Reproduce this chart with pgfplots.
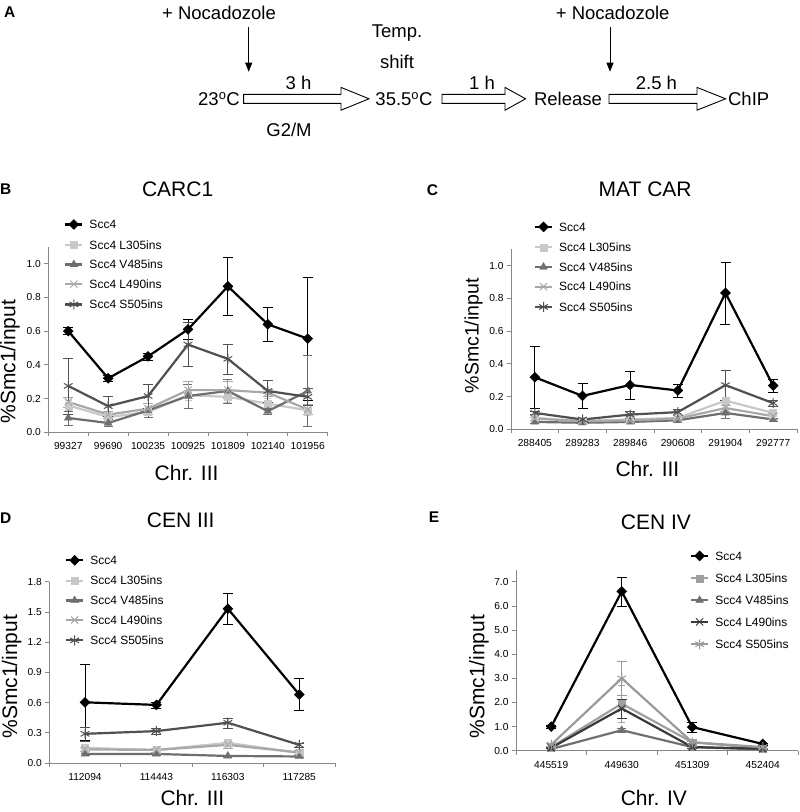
\documentclass[border=0pt]{standalone}
\usepackage{pgfplots}
\pgfplotsset{compat=1.18}
\usepackage{fontspec}
\setmainfont{Liberation Sans}
\usetikzlibrary{arrows.meta}
\definecolor{axgray}{RGB}{134,134,134}
\definecolor{cb}{RGB}{200,200,200}
\definecolor{cc}{RGB}{110,110,110}
\definecolor{cd}{RGB}{168,168,168}
\definecolor{ce}{RGB}{80,80,80}
\definecolor{eb}{RGB}{160,160,160}
\definecolor{ec}{RGB}{112,112,112}
\definecolor{ed}{RGB}{58,58,58}
\definecolor{ee}{RGB}{154,154,154}
\newcommand{\fTick}{\fontsize{10.2}{12}\selectfont}
\newcommand{\fLeg}{\fontsize{12}{14}\selectfont}
\newcommand{\fLab}{\fontsize{21}{24}\selectfont}
\newcommand{\fA}{\fontsize{18.5}{21}\selectfont}
\newcommand{\fLet}{\fontsize{15.5}{18}\selectfont\bfseries}
\pgfdeclareplotmark{dmd}{%
 \pgfpathmoveto{\pgfqpoint{0pt}{\pgfplotmarksize}}%
 \pgfpathlineto{\pgfqpoint{\pgfplotmarksize}{0pt}}%
 \pgfpathlineto{\pgfqpoint{0pt}{-\pgfplotmarksize}}%
 \pgfpathlineto{\pgfqpoint{-\pgfplotmarksize}{0pt}}%
 \pgfpathclose\pgfusepathqfillstroke}
\pgfplotsset{
 panel/.style={
  scale only axis, clip=false,
  axis lines*=left, axis line style={-, draw=axgray, line width=0.8pt},
  ymin=0, enlargelimits=false,
  tick align=outside, major tick length=4pt, minor tick length=4pt,
  ytick style={draw=axgray, line width=0.8pt},
  xtick style={draw=none},
  minor x tick style={draw=axgray, line width=0.8pt},
  tick label style={font=\fTick},
  /pgf/number format/assume math mode=true,
  yticklabel style={/pgf/number format/fixed, /pgf/number format/fixed zerofill, /pgf/number format/precision=1},
  xticklabel style={yshift=-3pt},
  every axis y label/.style={rotate=90, anchor=center, font=\fLab},
  every axis x label/.style={anchor=center, font=\fLab},
  every axis title/.style={anchor=center, font=\fLab},
  legend cell align=left,
  legend style={draw=none, fill=none, inner sep=0pt, outer sep=0pt, font=\fLeg, anchor=north west, column sep=6pt, row sep=11pt, nodes={inner sep=0pt, text height=8.6pt, text depth=0pt}},
 },
 sA/.style={color=black, line width=2.2pt, mark=dmd, mark size=5pt, mark options={solid, line width=0.4pt, fill=black}},
 sB/.style={color=#1, line width=2.2pt, mark=square*, mark size=3.5pt, mark options={solid, line width=0.4pt, fill=#1}},
 sC/.style={color=#1, line width=2.2pt, mark=triangle*, mark size=4.5pt, mark options={solid, line width=0.4pt, fill=#1}},
 sD/.style={color=#1, line width=2.2pt, mark=x, mark size=5pt, mark options={solid, line width=1pt}},
 sE/.style={color=#1, line width=2.2pt, mark=asterisk, mark size=5pt, mark options={solid, line width=1pt}},
 ebar/.style={error bars/.cd, y dir=both, y explicit, error bar style={line width=0.9pt}},
}
\begin{document}
\begin{tikzpicture}
\path[use as bounding box] (0pt,0pt) rectangle (800pt,-812pt);
% ---------- Panel A ----------
\node[font=\fLet] at (9.7pt,-12.3pt) {A};
\begin{scope}[font=\fA]
\node at (219pt,-13.3pt) {+ Nocadozole};
\node at (612.7pt,-13.3pt) {+ Nocadozole};
\node at (397pt,-33.3pt) {Temp.};
\node at (397pt,-61.7pt) {shift};
\node at (298.5pt,-82.7pt) {3 h};
\node at (482pt,-82.7pt) {1 h};
\node at (656.4pt,-82.7pt) {2.5 h};
\node at (219pt,-99.3pt) {23\textsuperscript{o}C};
\node at (404pt,-99.3pt) {35.5\textsuperscript{o}C};
\node at (568pt,-99.3pt) {Release};
\node at (748.7pt,-99.3pt) {ChIP};
\node at (289pt,-130pt) {G2/M};
\end{scope}
\draw[line width=0.9pt, -{Triangle[length=9pt,width=7pt]}] (248.7pt,-26.7pt) -- (248.7pt,-71.7pt);
\draw[line width=0.9pt, -{Triangle[length=9pt,width=7pt]}] (610pt,-26.7pt) -- (610pt,-71.7pt);
\draw[line width=0.9pt, fill=white] (243.6pt,-94.3pt) -- (341pt,-94.3pt) -- (341pt,-87.4pt) -- (369pt,-98.8pt) -- (341pt,-110.2pt) -- (341pt,-103.3pt) -- (243.6pt,-103.3pt) -- cycle;
\draw[line width=0.9pt, fill=white] (442pt,-94.3pt) -- (505pt,-94.3pt) -- (505pt,-87.4pt) -- (525.6pt,-98.8pt) -- (505pt,-110.2pt) -- (505pt,-103.3pt) -- (442pt,-103.3pt) -- cycle;
\draw[line width=0.9pt, fill=white] (609pt,-94.3pt) -- (697pt,-94.3pt) -- (697pt,-87.4pt) -- (725.6pt,-98.8pt) -- (697pt,-110.2pt) -- (697pt,-103.3pt) -- (609pt,-103.3pt) -- cycle;
% ---------- letters ----------
\node[font=\fLet] at (5.8pt,-189pt) {B};
\node[font=\fLet] at (432.5pt,-190pt) {C};
\node[font=\fLet] at (5.8pt,-517.8pt) {D};
\node[font=\fLet] at (434pt,-517.5pt) {E};
% ---------- Panel B ----------
\begin{axis}[panel, at={(48.3pt,-432.3pt)}, anchor=south west, width=279.4pt, height=185.6pt,
 xmin=-0.5, xmax=6.5, ymax=1.1, ytick={0,0.2,0.4,0.6,0.8,1.0},
 xtick={0,1,2,3,4,5,6}, xticklabels={99327,99690,100235,100925,101809,102140,101956},
 minor xtick={-0.5,0.5,1.5,2.5,3.5,4.5,5.5,6.5},
 title={CARC1}, title style={at={(axis description cs:0.463,1.309)}},
 xlabel={Chr. III}, xlabel style={at={(axis description cs:0.495,-0.221)}},
 ylabel={\%Smc1/input}, ylabel style={at={(axis description cs:-0.137,0.38)}},
 legend style={at={(0.057,1.147)}}]
\addplot[sA, ebar] table[x=x,y=y,y error=e] {
x y e
0 0.600 0.02
1 0.320 0.02
2 0.450 0.02
3 0.610 0.06
4 0.865 0.17
5 0.640 0.10
6 0.555 0.365
};
\addplot[sB=cb, ebar] table[x=x,y=y,y error=e] {
x y e
0 0.16 0.03
1 0.09 0.02
2 0.12 0.03
3 0.22 0.03
4 0.21 0.03
5 0.17 0.03
6 0.13 0.03
};
\addplot[sC=cc, ebar] table[x=x,y=y,y error=e] {
x y e
0 0.085 0.04
1 0.055 0.02
2 0.130 0.04
3 0.215 0.07
4 0.245 0.07
5 0.125 0.02
6 0.245 0.21
};
\addplot[sD=cd, ebar] table[x=x,y=y,y error=e] {
x y e
0 0.180 0.03
1 0.105 0.02
2 0.140 0.03
3 0.250 0.05
4 0.250 0.05
5 0.235 0.02
6 0.135 0.03
};
\addplot[sE=ce, ebar] table[x=x,y=y,y error=e] {
x y e
0 0.275 0.165
1 0.155 0.06
2 0.215 0.07
3 0.520 0.13
4 0.435 0.09
5 0.245 0.065
6 0.210 0.05
};
\legend{Scc4, Scc4 L305ins, Scc4 V485ins, Scc4 L490ins, Scc4 S505ins}
\end{axis}
% ---------- Panel C ----------
\begin{axis}[panel, at={(511pt,-429.3pt)}, anchor=south west, width=286pt, height=180pt,
 xmin=-0.5, xmax=5.5, ymax=1.1, ytick={0,0.2,0.4,0.6,0.8,1.0},
 xtick={0,1,2,3,4,5}, xticklabels={288405,289283,289846,290608,291904,292777},
 minor xtick={-0.5,0.5,1.5,2.5,3.5,4.5,5.5},
 title={MAT CAR}, title style={at={(axis description cs:0.469,1.335)}},
 xlabel={Chr. III}, xlabel style={at={(axis description cs:0.477,-0.222)}},
 ylabel={\%Smc1/input}, ylabel style={at={(axis description cs:-0.131,0.519)}, font=\fontsize{19.5}{22}\selectfont},
 legend style={at={(0.08,1.152)}}]
\addplot[sA, ebar] table[x=x,y=y,y error=e] {
x y e
0 0.318 0.19
1 0.204 0.075
2 0.271 0.085
3 0.237 0.04
4 0.833 0.19
5 0.267 0.04
};
\addplot[sB=cb, ebar] table[x=x,y=y,y error=e] {
x y e
0 0.070 0.01
1 0.050 0.01
2 0.060 0.01
3 0.070 0.01
4 0.175 0.02
5 0.100 0.02
};
\addplot[sC=cc, ebar] table[x=x,y=y,y error=e] {
x y e
0 0.045 0.01
1 0.040 0.01
2 0.045 0.01
3 0.055 0.01
4 0.100 0.03
5 0.060 0.01
};
\addplot[sD=cd, ebar] table[x=x,y=y,y error=e] {
x y e
0 0.065 0.01
1 0.050 0.01
2 0.055 0.01
3 0.065 0.01
4 0.130 0.02
5 0.080 0.02
};
\addplot[sE=ce, ebar] table[x=x,y=y,y error=e] {
x y e
0 0.100 0.01
1 0.060 0.01
2 0.090 0.02
3 0.105 0.02
4 0.270 0.09
5 0.160 0.02
};
\legend{Scc4, Scc4 L305ins, Scc4 V485ins, Scc4 L490ins, Scc4 S505ins}
\end{axis}
% ---------- Panel D ----------
\begin{axis}[panel, at={(49.3pt,-763pt)}, anchor=south west, width=285.7pt, height=181.2pt,
 xmin=-0.5, xmax=3.5, ymax=1.8, ytick={0,0.3,0.6,0.9,1.2,1.5,1.8},
 xtick={0,1,2,3}, xticklabels={112094,114443,116303,117285},
 minor xtick={-0.5,0.5,1.5,2.5,3.5},
 title={CEN III}, title style={at={(axis description cs:0.460,1.337)}},
 xlabel={Chr. III}, xlabel style={at={(axis description cs:0.501,-0.192)}},
 ylabel={\%Smc1/input}, ylabel style={at={(axis description cs:-0.132,0.476)}},
 legend style={at={(0.055,1.146)}}]
\addplot[sA, ebar] table[x=x,y=y,y error=e] {
x y e
0 0.603 0.38
1 0.577 0.03
2 1.533 0.15
3 0.680 0.16
};
\addplot[sB=cb, ebar] table[x=x,y=y,y error=e] {
x y e
0 0.150 0.02
1 0.130 0.02
2 0.200 0.03
3 0.100 0.02
};
\addplot[sC=cc, ebar] table[x=x,y=y,y error=e] {
x y e
0 0.090 0.01
1 0.090 0.01
2 0.070 0.01
3 0.065 0.01
};
\addplot[sD=cd, ebar] table[x=x,y=y,y error=e] {
x y e
0 0.135 0.02
1 0.130 0.02
2 0.180 0.03
3 0.105 0.02
};
\addplot[sE=ce, ebar] table[x=x,y=y,y error=e] {
x y e
0 0.290 0.07
1 0.317 0.03
2 0.400 0.05
3 0.180 0.02
};
\legend{Scc4, Scc4 L305ins, Scc4 V485ins, Scc4 L490ins, Scc4 S505ins}
\end{axis}
% ---------- Panel E ----------
\begin{axis}[panel, at={(516pt,-750.7pt)}, anchor=south west, width=282pt, height=181pt,
 xmin=-0.5, xmax=3.5, ymax=7.5, ytick={0,1,2,3,4,5,6,7},
 xtick={0,1,2,3}, xticklabels={445519,449630,451309,452404},
 minor xtick={-0.5,0.5,1.5,2.5,3.5},
 title={CEN IV}, title style={at={(axis description cs:0.496,1.26)}},
 xlabel={Chr. IV}, xlabel style={at={(axis description cs:0.489,-0.262)}},
 ylabel={\%Smc1/input}, ylabel style={at={(axis description cs:-0.131,0.409)}},
 legend style={at={(0.617,1.104)}, row sep=13.1pt}]
\addplot[sA, ebar] table[x=x,y=y,y error=e] {
x y e
0 1.00 0.05
1 6.60 0.60
2 0.98 0.20
3 0.28 0.05
};
\addplot[sB=eb, ebar] table[x=x,y=y,y error=e] {
x y e
0 0.15 0.05
1 1.95 0.78
2 0.35 0.05
3 0.10 0.03
};
\addplot[sC=ec, ebar] table[x=x,y=y,y error=e] {
x y e
0 0.07 0.02
1 0.85 0.10
2 0.15 0.03
3 0.05 0.02
};
\addplot[sD=ed, ebar] table[x=x,y=y,y error=e] {
x y e
0 0.12 0.03
1 1.75 0.40
2 0.15 0.03
3 0.08 0.02
};
\addplot[sE=ee, ebar] table[x=x,y=y,y error=e] {
x y e
0 0.25 0.05
1 3.00 0.70
2 0.35 0.05
3 0.15 0.03
};
\legend{Scc4, Scc4 L305ins, Scc4 V485ins, Scc4 L490ins, Scc4 S505ins}
\end{axis}
\end{tikzpicture}
\end{document}
